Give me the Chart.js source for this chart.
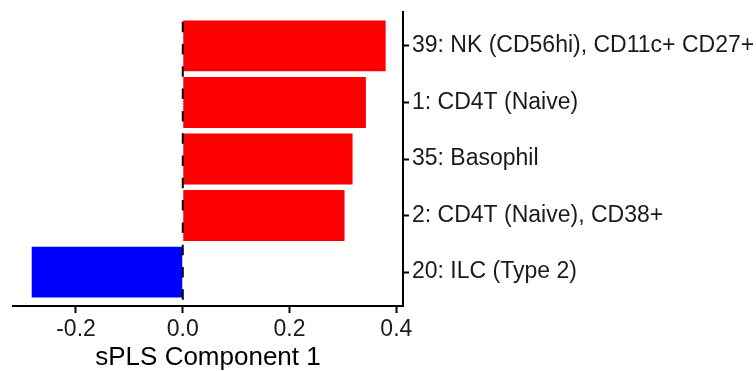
<!DOCTYPE html>
<html>
<head>
<meta charset="utf-8">
<script src="https://cdn.jsdelivr.net/npm/chart.js@4/dist/chart.umd.min.js"></script>
<style>
body{margin:0;background:#fff;}
#wrap{width:756px;height:371px;}
</style>
</head>
<body>
<div id="wrap"><canvas id="myChart"></canvas></div>
<script>
const clusters = [
    '39: NK (CD56hi), CD11c+ CD27+',
    '1: CD4T (Naive)',
    '35: Basophil',
    '2: CD4T (Naive), CD38+',
    '20: ILC (Type 2)'
];
const loadings = [0.380, 0.343, 0.318, 0.303, -0.283];
const xTicks = [-0.2, 0.0, 0.2, 0.4];
const barColors = loadings.map(v => v > 0 ? '#FF0000' : '#0000FF');

// dashed line at zero, drawn over the bars
const zeroLine = {
    id: 'zeroLine',
    afterDatasetsDraw(chart){
        const ctx = chart.ctx;
        const a = chart.chartArea;
        const x = chart.scales.x.getPixelForValue(0);
        ctx.save();
        ctx.strokeStyle = '#000';
        ctx.lineWidth = 2;
        ctx.setLineDash([10.5, 11.8]);
        ctx.lineDashOffset = 12.6;
        ctx.beginPath();
        ctx.moveTo(x, a.top);
        ctx.lineTo(x, a.bottom);
        ctx.stroke();
        ctx.restore();
    }
};

const ctx = document.getElementById('myChart').getContext('2d');
const myChart = new Chart(ctx, {
    type: 'bar',
    data: {
        datasets: [{
            data: loadings.map((v, i) => ({x: v, y: i})),
            backgroundColor: barColors,
            borderWidth: 0,
            barPercentage: 0.9,
            categoryPercentage: 1.0
        }]
    },
    options: {
        indexAxis: 'y',
        responsive: true,
        maintainAspectRatio: false,
        animation: false,
        layout: {padding: {left: 13, top: 12, right: 0, bottom: 0}},
        plugins: {
            legend: {display: false},
            tooltip: {enabled: false}
        },
        scales: {
            x: {
                type: 'linear',
                min: -0.318,
                max: 0.4125,
                afterBuildTicks: s => { s.ticks = xTicks.map(v => ({value: v})); },
                afterFit: s => { s.height = 65; s.paddingLeft = 0; s.paddingRight = 0; },
                border: {display: true, color: '#000', width: 2},
                grid: {drawOnChartArea: false, tickLength: 7, tickColor: '#000', tickWidth: 2},
                ticks: {
                    color: '#1a1a1a',
                    padding: 3,
                    font: {family: 'Liberation Sans', size: 23},
                    callback: v => v.toFixed(1)
                },
                title: {
                    display: true,
                    text: 'sPLS Component 1',
                    color: '#000',
                    font: {family: 'Liberation Sans', size: 26},
                    padding: {top: 0, bottom: -2}
                }
            },
            y: {
                type: 'linear',
                position: 'right',
                reverse: true,
                offset: false,
                min: -0.6,
                max: 4.6,
                afterBuildTicks: s => { s.ticks = clusters.map((c, i) => ({value: i})); },
                afterFit: s => { s.width = 353; s.paddingTop = 0; s.paddingBottom = 0; },
                border: {display: true, color: '#000', width: 2},
                grid: {offset: false, drawOnChartArea: false, tickLength: 6, tickColor: '#000', tickWidth: 2},
                ticks: {
                    color: '#1a1a1a',
                    padding: 3,
                    font: {family: 'Liberation Sans', size: 23},
                    callback: v => clusters[v]
                }
            }
        }
    },
    plugins: [zeroLine]
});
</script>
</body>
</html>
